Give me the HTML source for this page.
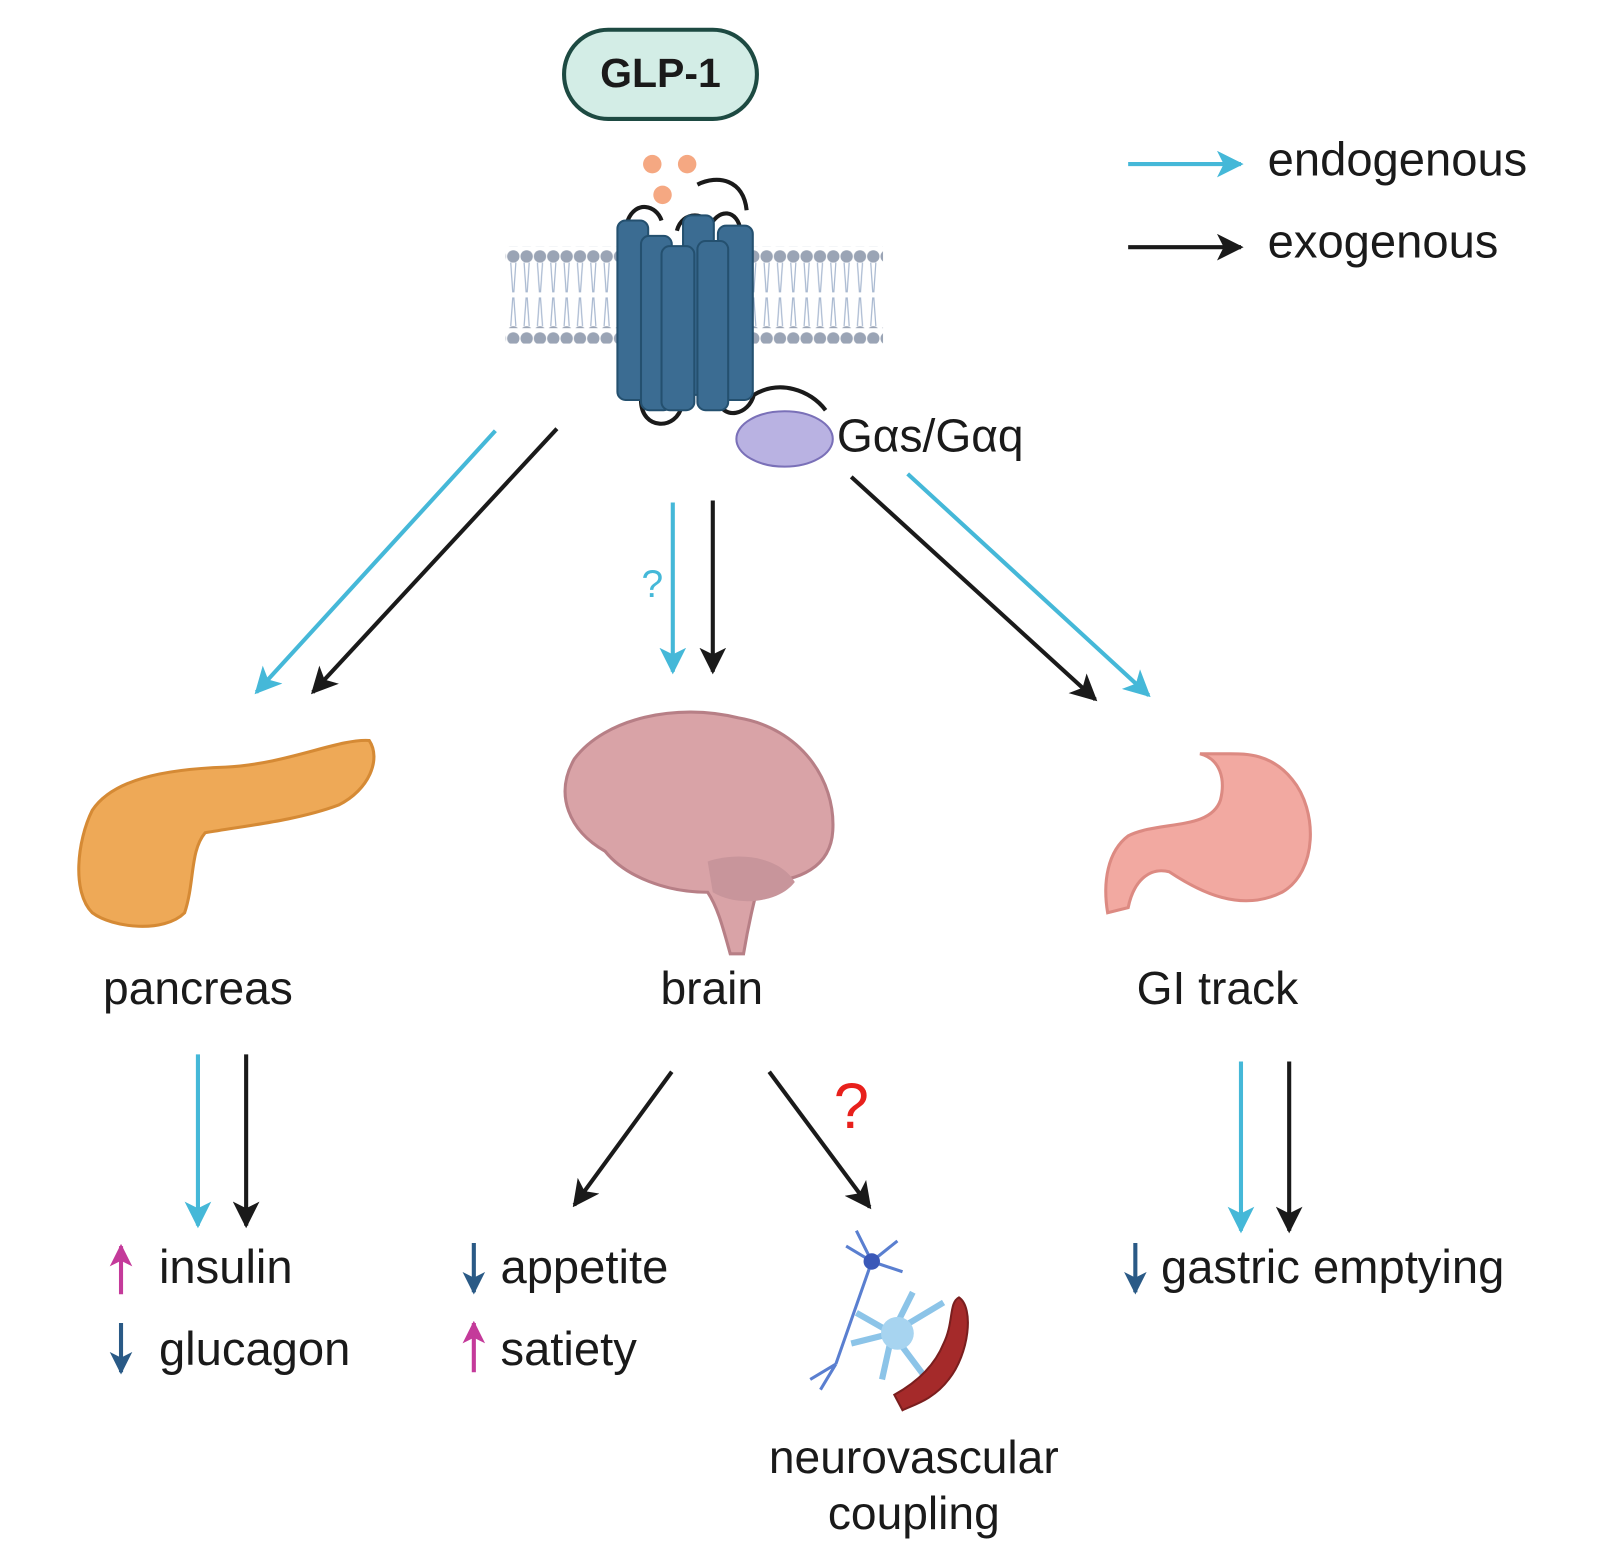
<!DOCTYPE html>
<html><head><meta charset="utf-8"><style>
html,body{margin:0;padding:0;background:#fff}
svg{display:block}
text{font-family:"Liberation Sans","DejaVu Sans",sans-serif}
</style></head><body>
<svg width="1600" height="1546" viewBox="0 0 1600 1546" xmlns="http://www.w3.org/2000/svg">
<defs>
<pattern id="dots" width="13" height="80" patternUnits="userSpaceOnUse"><circle cx="6.5" cy="10" r="6" fill="#9aa4b5"/><circle cx="6.5" cy="84" r="6" fill="#9aa4b5"/><path d="M4,16 L6,45 M9,16 L7,45 M4,78 L6,50 M9,78 L7,50" stroke="#a8b8d0" stroke-width="1.2" fill="none"/></pattern>
<marker id="bk" viewBox="0 0 10 10" refX="9" refY="5" markerWidth="26" markerHeight="26" markerUnits="userSpaceOnUse" orient="auto"><path d="M0,0 L10,5 L0,10 L2.5,5 Z" fill="#1a1a1a"/></marker>
<marker id="cy" viewBox="0 0 10 10" refX="9" refY="5" markerWidth="26" markerHeight="26" markerUnits="userSpaceOnUse" orient="auto"><path d="M0,0 L10,5 L0,10 L2.5,5 Z" fill="#45b8d8"/></marker>
<marker id="pk" viewBox="0 0 10 10" refX="9" refY="5" markerWidth="22" markerHeight="22" markerUnits="userSpaceOnUse" orient="auto"><path d="M0,0 L10,5 L0,10 L2.5,5 Z" fill="#c43a9a"/></marker>
<marker id="dk" viewBox="0 0 10 10" refX="9" refY="5" markerWidth="22" markerHeight="22" markerUnits="userSpaceOnUse" orient="auto"><path d="M0,0 L10,5 L0,10 L2.5,5 Z" fill="#2a5a86"/></marker>
</defs>
<g transform="scale(1.0256)">
<rect x="550" y="29" width="188" height="87" rx="43" fill="#d3ede6" stroke="#1d4a42" stroke-width="4"/>
<text x="644" y="85" font-size="40" font-weight="bold" text-anchor="middle" fill="#1a1a1a">GLP-1</text>

<rect x="493" y="240" width="368" height="95" fill="url(#dots)"/>
<circle cx="636" cy="160" r="9" fill="#f5a882"/><circle cx="670" cy="160" r="9" fill="#f5a882"/><circle cx="646" cy="190" r="9" fill="#f5a882"/>
<path d="M680,180 C700,170 725,175 728,205" stroke="#1a1a1a" stroke-width="4" fill="none"/>
<path d="M612,215 C620,195 640,200 645,215 M660,225 C665,205 690,205 695,225 M690,225 C700,200 720,205 722,225" stroke="#1a1a1a" stroke-width="4" fill="none"/>
<path d="M625,390 C625,420 660,420 665,395 M700,390 C705,410 730,405 735,385 C760,370 790,380 805,400" stroke="#1a1a1a" stroke-width="4" fill="none"/>
<g fill="#3b6c92" stroke="#24506f" stroke-width="2">
<rect x="602" y="215" width="30" height="175" rx="8"/>
<rect x="700" y="220" width="34" height="170" rx="8"/>
<rect x="666" y="210" width="30" height="175" rx="8"/>
<rect x="625" y="230" width="30" height="170" rx="8"/>
<rect x="680" y="235" width="30" height="165" rx="8"/>
<rect x="645" y="240" width="32" height="160" rx="8"/>
</g>
<ellipse cx="765" cy="428" rx="47" ry="27" fill="#b9b2e2" stroke="#7a70b8" stroke-width="2"/>
<text x="816" y="440" font-size="45" fill="#1a1a1a">Gαs/Gαq</text>

<line x1="1100" y1="160" x2="1210" y2="160" stroke="#45b8d8" stroke-width="4" marker-end="url(#cy)"/>
<line x1="1100" y1="241" x2="1210" y2="241" stroke="#1a1a1a" stroke-width="4" marker-end="url(#bk)"/>
<text x="1236" y="171" font-size="46" fill="#1a1a1a">endogenous</text>
<text x="1236" y="251" font-size="46" fill="#1a1a1a">exogenous</text>

<g stroke-width="4" fill="none">
<line x1="483" y1="420" x2="250" y2="675" stroke="#45b8d8" marker-end="url(#cy)"/>
<line x1="543" y1="418" x2="305" y2="675" stroke="#1a1a1a" marker-end="url(#bk)"/>
<line x1="656" y1="490" x2="656" y2="655" stroke="#45b8d8" marker-end="url(#cy)"/>
<line x1="695" y1="488" x2="695" y2="655" stroke="#1a1a1a" marker-end="url(#bk)"/>
<line x1="830" y1="465" x2="1068" y2="682" stroke="#1a1a1a" marker-end="url(#bk)"/>
<line x1="885" y1="462" x2="1120" y2="678" stroke="#45b8d8" marker-end="url(#cy)"/>
<line x1="193" y1="1028" x2="193" y2="1195" stroke="#45b8d8" marker-end="url(#cy)"/>
<line x1="240" y1="1028" x2="240" y2="1195" stroke="#1a1a1a" marker-end="url(#bk)"/>
<line x1="655" y1="1045" x2="560" y2="1175" stroke="#1a1a1a" marker-end="url(#bk)"/>
<line x1="750" y1="1045" x2="848" y2="1177" stroke="#1a1a1a" marker-end="url(#bk)"/>
<line x1="1210" y1="1035" x2="1210" y2="1200" stroke="#45b8d8" marker-end="url(#cy)"/>
<line x1="1257" y1="1035" x2="1257" y2="1200" stroke="#1a1a1a" marker-end="url(#bk)"/>
</g>
<text x="636" y="582" font-size="38" fill="#45b8d8" text-anchor="middle">?</text>
<text x="830" y="1100" font-size="62" fill="#e8201c" text-anchor="middle">?</text>

<path d="M90,790 C110,760 160,750 220,748 C280,745 330,720 360,722 C372,740 360,770 330,785 C290,800 240,805 200,812 C185,830 190,860 180,890 C160,910 110,905 90,890 C70,870 75,820 90,790 Z" fill="#eea957" stroke="#d58a35" stroke-width="3"/>
<path d="M560,740 C590,700 660,685 720,700 C780,710 815,760 812,810 C810,845 780,860 740,860 C735,880 730,900 725,930 L712,930 C705,905 700,885 690,870 C650,870 610,855 590,830 C555,810 540,775 560,740 Z" fill="#d9a3a7" stroke="#b77f86" stroke-width="3"/>
<path d="M690,840 C720,830 760,835 775,860 C760,880 720,885 695,870 Z" fill="#c8959b"/>
<path d="M1170,735 C1190,740 1195,760 1190,780 C1180,810 1130,800 1100,815 C1080,830 1075,860 1080,890 L1100,885 C1105,860 1120,845 1140,850 C1170,870 1210,890 1250,870 C1285,850 1285,790 1260,760 C1240,735 1215,735 1200,735 Z" fill="#f2a9a1" stroke="#dc8a82" stroke-width="3"/>

<text x="193" y="979" font-size="45" text-anchor="middle" fill="#1a1a1a">pancreas</text>
<text x="694" y="979" font-size="45" text-anchor="middle" fill="#1a1a1a">brain</text>
<text x="1187" y="979" font-size="45" text-anchor="middle" fill="#1a1a1a">GI track</text>

<g stroke-width="4">
<line x1="118" y1="1262" x2="118" y2="1215" stroke="#c43a9a" marker-end="url(#pk)"/>
<line x1="118" y1="1290" x2="118" y2="1338" stroke="#2a5a86" marker-end="url(#dk)"/>
<line x1="462" y1="1212" x2="462" y2="1260" stroke="#2a5a86" marker-end="url(#dk)"/>
<line x1="462" y1="1338" x2="462" y2="1290" stroke="#c43a9a" marker-end="url(#pk)"/>
<line x1="1107" y1="1212" x2="1107" y2="1260" stroke="#2a5a86" marker-end="url(#dk)"/>
</g>
<text x="155" y="1251" font-size="46" fill="#1a1a1a">insulin</text>
<text x="155" y="1331" font-size="46" fill="#1a1a1a">glucagon</text>
<text x="488" y="1251" font-size="46" fill="#1a1a1a">appetite</text>
<text x="488" y="1331" font-size="46" fill="#1a1a1a">satiety</text>
<text x="1132" y="1251" font-size="46" fill="#1a1a1a">gastric emptying</text>

<g stroke="#5a7fd0" stroke-width="3" fill="none">
<path d="M850,1230 L815,1330 M850,1230 L835,1200 M850,1230 L875,1210 M850,1230 L880,1240 M850,1230 L825,1215 M815,1330 L790,1345 M815,1330 L800,1355"/>
</g>
<circle cx="850" cy="1230" r="8" fill="#3a58b8"/>
<g stroke="#8cc4e8" stroke-width="6" fill="none">
<path d="M870,1300 L835,1280 M870,1300 L830,1310 M870,1300 L890,1260 M870,1300 L920,1270 M870,1300 L900,1340 M870,1300 L860,1345"/>
</g>
<circle cx="875" cy="1300" r="16" fill="#a7d4f0"/>
<path d="M935,1265 C950,1275 945,1320 925,1345 C910,1365 890,1370 880,1375 L872,1360 C890,1350 910,1335 920,1310 C930,1290 925,1270 935,1265 Z" fill="#a52a2a" stroke="#7a1e1e" stroke-width="2"/>
<text x="891" y="1436" font-size="45" text-anchor="middle" fill="#1a1a1a">neurovascular</text>
<text x="891" y="1491" font-size="45" text-anchor="middle" fill="#1a1a1a">coupling</text>
</g>
</svg>
</body></html>
